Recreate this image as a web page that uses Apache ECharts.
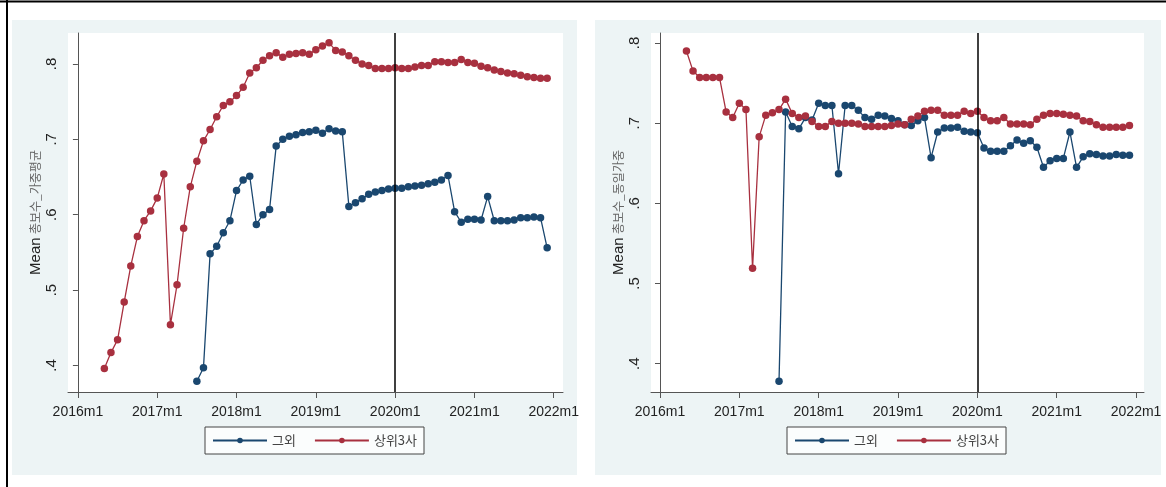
<!DOCTYPE html>
<html><head><meta charset="utf-8">
<script src="https://cdn.jsdelivr.net/npm/echarts@6/dist/echarts.min.js"></script>
<style>html,body{margin:0;padding:0;background:#fff}#c{width:1166px;height:487px}</style>
</head><body><div id="c"></div>
<script>
// ---- data ----
const xTickLabels = ['2016m1','2017m1','2018m1','2019m1','2020m1','2021m1','2022m1'];
const yTickValues = [0.4, 0.5, 0.6, 0.7, 0.8];
const seriesNames = ['그외', '상위3사'];
const refLineMonth = '2020m1';
const leftYTitle = '총보수_가중평균';
const rightYTitle = '총보수_동일가중';

// left panel: weighted average
const leftTop3Start = '2016m5';
const leftTop3 = [
  .396,.417,.434,.484,.532,.571,.592,.605,
  .622,.654,.454,.507,.582,.637,.671,.698,.713,.730,.745,.750,
  .758,.769,.788,.795,.805,.811,.815,.809,.813,.814,.815,.813,
  .819,.824,.828,.818,.816,.811,.805,.800,.798,.794,.794,.794,
  .795,.794,.794,.796,.798,.798,.803,.803,.802,.802,.806,.802,
  .801,.797,.795,.792,.790,.788,.787,.785,.783,.782,.781,.781
];
const leftOtherStart = '2017m7';
const leftOther = [
  .379,.397,.548,.558,.576,.592,
  .632,.646,.651,.587,.600,.607,.691,.700,.704,.706,.709,.710,
  .712,.708,.714,.711,.710,.611,.616,.621,.627,.630,.632,.634,
  .635,.635,.637,.638,.639,.641,.643,.646,.652,.604,.590,.594,
  .594,.593,.624,.592,.592,.592,.593,.596,.596,.597,.596,.556
];

// right panel: equal weighted
const rightTop3Start = '2016m5';
const rightTop3 = [
  .790,.765,.757,.757,.757,.757,.714,.707,
  .725,.717,.519,.683,.710,.713,.717,.730,.712,.707,.709,.702,
  .696,.696,.702,.700,.700,.700,.699,.696,.696,.696,.696,.697,
  .699,.698,.705,.709,.715,.716,.716,.710,.710,.710,.715,.712,
  .715,.707,.703,.703,.707,.699,.699,.699,.698,.705,.710,.712,
  .712,.711,.710,.709,.703,.702,.698,.695,.695,.695,.695,.697
];
const rightOtherStart = '2017m7';
const rightOther = [
  .378,.714,.696,.693,.707,.704,
  .725,.722,.722,.637,.722,.722,.716,.707,.705,.710,.709,.706,
  .703,.698,.697,.703,.707,.657,.689,.694,.694,.695,.690,.689,
  .688,.669,.665,.665,.665,.672,.679,.675,.678,.670,.645,.653,
  .656,.656,.689,.645,.658,.662,.661,.659,.659,.661,.660,.660
];

// ---- helpers ----
function monthIndex(s){ const m = s.match(/(\d+)m(\d+)/); return (+m[1]-2016)*12 + (+m[2]-1); }
function toPairs(start, arr){ const s = monthIndex(start); return arr.map((v,i)=>[s+i, v]); }
const xTickValues = xTickLabels.map(monthIndex);
const labelByIdx = {}; xTickLabels.forEach(l=>labelByIdx[monthIndex(l)] = l);

const BLUE = '#1A476F', RED = '#A8303F';
const FONT = "'Liberation Sans',Arial,sans-serif";
const KFONT = "'Noto Sans CJK KR','Liberation Sans',sans-serif";

function xAxisCfg(gi, min, max){
  return {
    type:'value', gridIndex:gi, min:min, max:max,
    axisLine:{show:true, onZero:false, lineStyle:{color:'#555', width:1}},
    axisTick:{show:true, customValues:xTickValues, length:6, lineStyle:{color:'#555'}},
    axisLabel:{customValues:xTickValues, formatter:v=>labelByIdx[Math.round(v)]||'', color:'#222', fontSize:14, fontFamily:FONT, margin:13},
    splitLine:{show:false}
  };
}
function yAxisCfg(gi, min, max, title){
  return {
    type:'value', gridIndex:gi, min:min, max:max,
    name:'{a|Mean} {b|'+title+'}', nameLocation:'middle', nameRotate:90, nameGap:25,
    nameTextStyle:{rich:{a:{fontSize:15, color:'#222', fontFamily:FONT}, b:{fontSize:12, color:'#666', fontFamily:KFONT}}},
    axisLine:{show:true, lineStyle:{color:'#555', width:1}},
    axisTick:{show:true, customValues:yTickValues, length:5, lineStyle:{color:'#555'}},
    axisLabel:{customValues:yTickValues, rotate:90, formatter:v=>v.toFixed(1).replace(/^0/,''), color:'#222', fontSize:15, fontFamily:FONT, margin:9},
    splitLine:{show:false}
  };
}
function lineSeries(name, color, xi, data, withRef){
  const s = {
    name:name, type:'line', xAxisIndex:xi, yAxisIndex:xi, data:data,
    symbol:'circle', symbolSize:7.5, showSymbol:true,
    itemStyle:{color:color}, lineStyle:{color:color, width:1.3},
    animation:false, z:3
  };
  if (withRef) s.markLine = {silent:true, symbol:'none', label:{show:false},
    lineStyle:{color:'#000', width:1.5, type:'solid'}, data:[{xAxis:monthIndex(refLineMonth)}], animation:false};
  return s;
}
function legendCfg(left){
  return {
    data:seriesNames, left:left, top:427, orient:'horizontal',
    backgroundColor:'#fbfdfd', borderColor:'#444', borderWidth:1, borderRadius:0,
    padding:[7,7,7,7], itemWidth:54, itemHeight:7, itemGap:18,
    textStyle:{fontSize:13, color:'#444', fontFamily:KFONT}
  };
}

const chart = echarts.init(document.getElementById('c'), null, {renderer:'canvas'});
chart.setOption({
  animation:false,
  backgroundColor:'#ffffff',
  graphic:[
    {type:'rect', shape:{x:12,y:20,width:565,height:455}, style:{fill:'#EDF4F5'}, z:-10, silent:true},
    {type:'rect', shape:{x:595,y:20,width:566,height:455}, style:{fill:'#EDF4F5'}, z:-10, silent:true},
    {type:'line', shape:{x1:0,y1:1.5,x2:1166,y2:1.5}, style:{stroke:'#000', lineWidth:2}, silent:true},
    {type:'line', shape:{x1:7,y1:0,x2:7,y2:487}, style:{stroke:'#000', lineWidth:2}, silent:true}
  ],
  grid:[
    {left:68, top:33, width:495, height:359, show:true, backgroundColor:'#ffffff', borderWidth:0},
    {left:651, top:33, width:493, height:359, show:true, backgroundColor:'#ffffff', borderWidth:0}
  ],
  xAxis:[ xAxisCfg(0, -1.5, 73.4), xAxisCfg(1, -1.36, 73.2) ],
  yAxis:[ yAxisCfg(0, 0.3647, 0.8411, leftYTitle), yAxisCfg(1, 0.3647, 0.8125, rightYTitle) ],
  legend:[ legendCfg(205), legendCfg(787) ],
  series:[
    lineSeries(seriesNames[0], BLUE, 0, toPairs(leftOtherStart, leftOther), true),
    lineSeries(seriesNames[1], RED, 0, toPairs(leftTop3Start, leftTop3), false),
    lineSeries(seriesNames[0], BLUE, 1, toPairs(rightOtherStart, rightOther), true),
    lineSeries(seriesNames[1], RED, 1, toPairs(rightTop3Start, rightTop3), false)
  ]
});
</script></body></html>
